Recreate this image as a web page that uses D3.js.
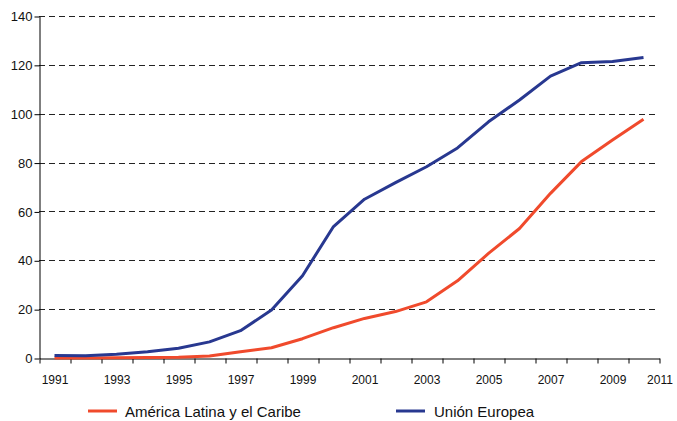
<!DOCTYPE html>
<html>
<head>
<meta charset="utf-8">
<script src="https://cdn.jsdelivr.net/npm/d3@7"></script>
<style>
  html, body { margin: 0; padding: 0; background: #fff; }
  svg { display: block; font-family: "Liberation Sans", Arial, sans-serif; }
</style>
</head>
<body>
<svg id="chart" width="677" height="421"></svg>
<script>
const years = [1991,1992,1993,1994,1995,1996,1997,1998,1999,2000,2001,2002,2003,2004,2005,2006,2007,2008,2009,2010];
const latam = [0,0,0.1,0.2,0.3,0.8,2.6,4.2,7.9,12.4,16.2,19,23,31.6,42.8,53,67.4,80.4,89.2,97.7];
const ue    = [1,0.9,1.5,2.6,4,6.6,11.2,19.6,33.7,53.8,65,71.8,78.3,86,96.7,105.6,115.4,120.9,121.4,123];
const yTicks = [0,20,40,60,80,100,120,140];
const xLabels = [1991,1993,1995,1997,1999,2001,2003,2005,2007,2009,2011];
const seriesNames = ["América Latina y el Caribe", "Unión Europea"];
const seriesColors = ["#f04a2c", "#283890"];

(function () {
const svg = d3.select("#chart");
const mLeft = 39, mRight = 659, mTop = 16, mBottom = 358;

const x = d3.scaleLinear().domain([1990.5, 2010.5]).range([mLeft, mRight]);
const y = d3.scaleLinear().domain([0, 140]).range([mBottom, mTop]);

// grid
svg.append("g").selectAll("line").data(yTicks.filter(d => d > 0)).join("line")
  .attr("x1", mLeft).attr("x2", mRight)
  .attr("y1", d => Math.round(y(d)) + 0.5).attr("y2", d => Math.round(y(d)) + 0.5)
  .attr("stroke", "#222").attr("stroke-width", 1).attr("stroke-dasharray", "6,4");

// y axis
const yAxis = svg.append("g").attr("transform", `translate(${mLeft + 0.5},0.5)`)
  .call(d3.axisLeft(y).tickValues(yTicks).tickSize(5).tickSizeOuter(0).tickPadding(2));
yAxis.select(".domain").attr("stroke", "#000");
yAxis.selectAll("text").attr("font-size", 13).attr("fill", "#111").attr("font-family", "Liberation Sans, Arial, sans-serif");
yAxis.selectAll(".tick line").attr("stroke", "#000");

// x axis (ticks between categories)
const boundaries = d3.range(years.length + 1).map(i => 1990.5 + i);
const xAxis = svg.append("g").attr("transform", `translate(0.5,${mBottom + 0.5})`)
  .call(d3.axisBottom(x).tickValues(boundaries).tickSize(5).tickSizeOuter(0).tickFormat(""));
xAxis.select(".domain").attr("stroke", "#000");
xAxis.selectAll(".tick line").attr("stroke", "#000");

// x labels
const xLab = svg.append("g").attr("transform", `translate(0,${mBottom})`)
  .call(d3.axisBottom(x).tickValues(xLabels).tickSize(0).tickPadding(17).tickFormat(d3.format("d")));
xLab.select(".domain").remove();
xLab.selectAll("text").attr("font-size", 12).attr("fill", "#111").attr("font-family", "Liberation Sans, Arial, sans-serif");
xLab.selectAll(".tick").filter(d => d === 2011)
  .attr("transform", `translate(${660},0)`);

// lines
const line = d3.line().x((d, i) => x(years[i])).y(d => y(d));
[latam, ue].forEach((s, k) => {
  svg.append("path").datum(s)
    .attr("d", line)
    .attr("fill", "none")
    .attr("stroke", seriesColors[k])
    .attr("stroke-width", 3)
    .attr("stroke-linejoin", "round");
});

// legend
const legendPos = [{lx: 88, tx: 125}, {lx: 396, tx: 434}];
const ly = 411;
seriesNames.forEach((name, k) => {
  svg.append("line")
    .attr("x1", legendPos[k].lx).attr("x2", legendPos[k].lx + 29)
    .attr("y1", ly).attr("y2", ly)
    .attr("stroke", seriesColors[k]).attr("stroke-width", 3);
  svg.append("text")
    .attr("x", legendPos[k].tx).attr("y", ly + 5.5)
    .attr("font-size", 15).attr("fill", "#111")
    .text(name);
});
})();
</script>
</body>
</html>
